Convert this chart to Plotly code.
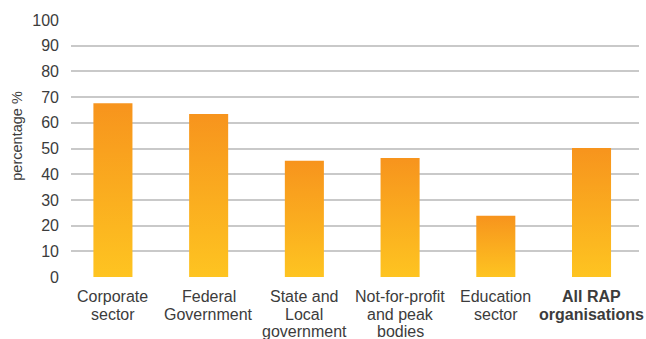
import plotly.graph_objects as go

categories = ["Corporate<br>sector", "Federal<br>Government", "State and<br>Local<br>government",
              "Not-for-profit<br>and peak<br>bodies", "Education<br>sector", "<b>All RAP</b><br><b>organisations</b>"]
values = [67.6, 63.4, 45.2, 46.3, 23.8, 50.2]
y_ticks = list(range(0, 101, 10))
y_title = "percentage %"

ORANGE = "#F7941D"
YELLOW = "#FEC421"
TEXT = "#3c3c3c"
half_w = 0.204

fig = go.Figure()
for i, v in enumerate(values):
    fig.add_trace(go.Scatter(
        x=[i - half_w, i + half_w, i + half_w, i - half_w, i - half_w],
        y=[0, 0, v, v, 0],
        mode="lines", line=dict(width=0),
        fill="toself",
        fillgradient=dict(type="vertical", colorscale=[[0, YELLOW], [1, ORANGE]]),
        hoverinfo="skip", showlegend=False,
    ))

# category labels, one annotation per line for tighter line spacing
for i, cat in enumerate(categories):
    for k, line in enumerate(cat.split("<br>")):
        fig.add_annotation(
            x=i, y=0, xref="x", yref="y", text=line, showarrow=False,
            xanchor="center", yanchor="middle", yshift=-(19.5 + 17.5 * k),
            font=dict(size=16, color=TEXT),
        )

# y-axis title
fig.add_annotation(
    x=-0.095, y=0.55, xref="paper", yref="paper", text=y_title, showarrow=False,
    textangle=-90, xanchor="center", yanchor="middle",
    font=dict(size=14.5, color=TEXT),
)

fig.update_layout(
    width=646, height=339,
    margin=dict(l=70.5, r=7, t=19.5, b=61.5),
    paper_bgcolor="white", plot_bgcolor="white",
    font=dict(family="Liberation Sans, Arial, sans-serif", size=16, color=TEXT),
    xaxis=dict(
        range=[-0.438, 5.496], showticklabels=False, showgrid=False, zeroline=False,
        showline=False, ticks="", automargin=False,
    ),
    yaxis=dict(
        range=[0, 100], tickvals=y_ticks, showgrid=True, gridcolor="#c9c9c9", gridwidth=1.6,
        zeroline=False, showline=False, ticks="", tickfont=dict(size=16),
        ticklabelstandoff=11, automargin=False,
    ),
)
fig.write_html("out.html")
